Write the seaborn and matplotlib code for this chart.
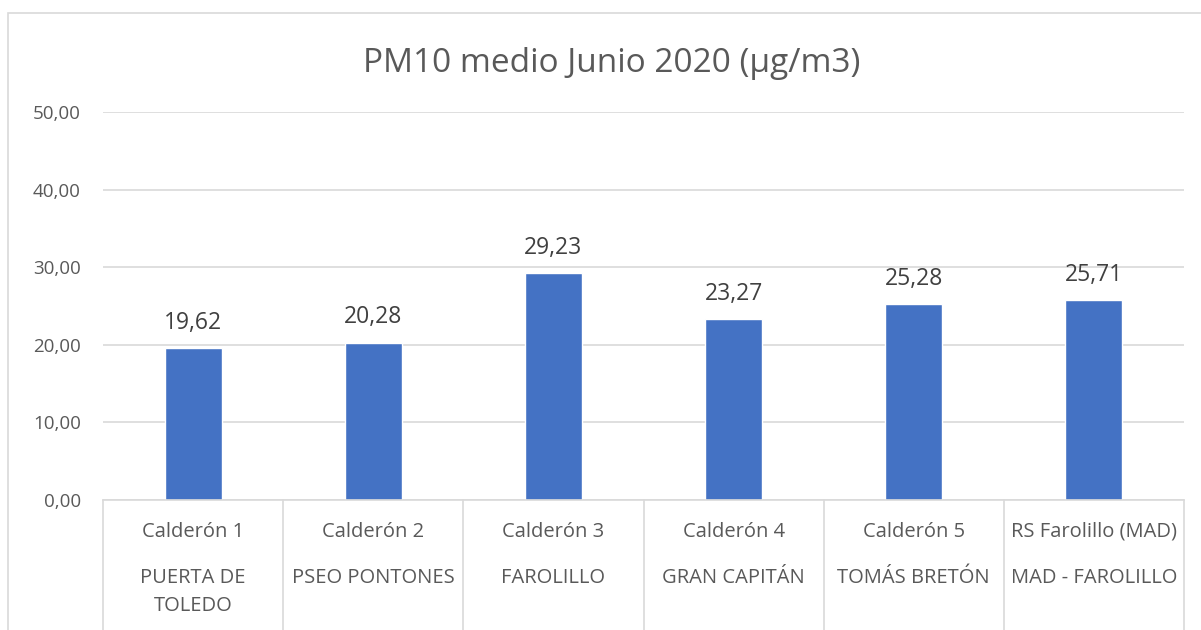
import pandas as pd
import matplotlib.pyplot as plt
import seaborn as sns
from matplotlib.patches import Rectangle

# data
stations = ["Calderón 1", "Calderón 2", "Calderón 3", "Calderón 4", "Calderón 5", "RS Farolillo (MAD)"]
locations = ["PUERTA DE\nTOLEDO", "PSEO PONTONES", "FAROLILLO", "GRAN CAPITÁN", "TOMÁS BRETÓN", "MAD - FAROLILLO"]
pm10 = [19.62, 20.28, 29.23, 23.27, 25.28, 25.71]

df = pd.DataFrame({"station": stations, "location": locations, "pm10": pm10})

sns.set_style("white")
plt.rcParams['font.family'] = ['Open Sans', 'DejaVu Sans']
text_color = "#595959"
grid_color = "#d9d9d9"

fig = plt.figure(figsize=(12.01, 6.30), dpi=100)
ax_h = 500 - 112  # plot height in px
ax = fig.add_axes([103 / 1201, 1 - 500 / 630, (1184 - 103) / 1201, ax_h / 630])

sns.barplot(data=df, x="station", y="pm10", color="#4472C4", width=0.317, saturation=1, ax=ax)

ax.set_ylim(0, 50)
ax.set_xlim(-0.5, len(stations) - 0.5)
ax.set_yticks(range(0, 51, 10))
ax.set_yticklabels([f"{v:.2f}".replace(".", ",") for v in range(0, 51, 10)], fontsize=13.5, color=text_color)
ax.tick_params(axis="y", length=0, pad=16)
ax.set_xticks([])
ax.set_xlabel(None)
ax.set_ylabel(None)
ax.yaxis.grid(True, color=grid_color, linewidth=1.2)
ax.set_axisbelow(True)
for side in ["top", "right", "left"]:
    ax.spines[side].set_visible(False)
ax.spines["bottom"].set_color(grid_color)
ax.spines["bottom"].set_linewidth(1.2)

# data labels
ax.bar_label(ax.containers[0], labels=[f"{v:.2f}".replace(".", ",") for v in pm10],
             padding=9.5, fontsize=16.5, color="#404040")

# two-level category axis
trans = ax.get_xaxis_transform()
for i, (st, loc) in enumerate(zip(stations, locations)):
    ax.text(i, -32 / ax_h, st, transform=trans, ha="center", va="center", fontsize=14.5, color=text_color)
    for k, line in enumerate(loc.split("\n")):
        ax.text(i, -(78 + 28 * k) / ax_h, line, transform=trans, ha="center", va="center",
                fontsize=14.5, color=text_color)
for i in range(len(stations) + 1):
    ax.plot([i - 0.5, i - 0.5], [0, -0.4], transform=trans, color=grid_color, linewidth=1.2, clip_on=False)

fig.text(612 / 1201, 1 - 63 / 630, "PM10 medio Junio 2020 (µg/m3)", ha="center", va="center",
         fontsize=24, color=text_color)

# chart frame
fig.patches.append(Rectangle((8 / 1201, -0.5), 1.5, 1.5 - 13 / 630, transform=fig.transFigure,
                             fill=False, edgecolor=grid_color, linewidth=1.2))

fig.savefig("out.png", dpi=100)
